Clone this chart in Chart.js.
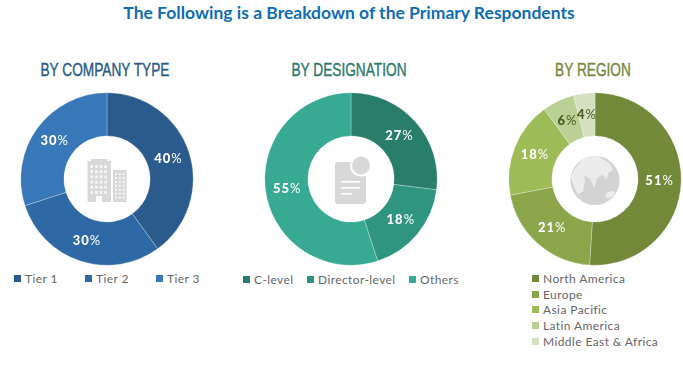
<!DOCTYPE html>
<html>
<head>
<meta charset="utf-8">
<title>Primary Respondents</title>
<script src="https://cdn.jsdelivr.net/npm/chart.js@4/dist/chart.umd.min.js"></script>
<style>
  html, body { margin: 0; padding: 0; background: #fff; }
  #page { position: relative; width: 683px; height: 369px; overflow: hidden; }
  #main-title { position: absolute; left: 0; top: 2px; width: 698px; text-align: center; font: bold 17.5px Lato, sans-serif; color: #0f6cb5; white-space: nowrap; }
  .chart-title { position: absolute; top: 60px; text-align: center; font: 18px "Liberation Sans", sans-serif; -webkit-text-stroke: .4px currentColor; white-space: nowrap; transform: scaleX(.76); }
  .chart-box { position: absolute; top: 89px; width: 180px; height: 180px; }
  .legend-item { position: absolute; font: 12px Lato, sans-serif; letter-spacing: .4px; color: #666; white-space: nowrap; line-height: 14px; }
  .legend-item i { position: absolute; left: -11px; top: 3px; width: 7px; height: 7px; }
</style>
</head>
<body>
<div id="page">
  <div id="main-title">The Following is a Breakdown of the Primary Respondents</div>
</div>
<script>
// ── data ────────────────────────────────────────────────────────
const companyLabels = ["Tier 1", "Tier 2", "Tier 3"];
const companyValues = [40, 30, 30];
const companyColors = ["#2a5b8c", "#2f69a5", "#3878b8"];

const designationLabels = ["C-level", "Director-level", "Others"];
const designationValues = [27, 18, 55];
const designationColors = ["#287d6b", "#2f9580", "#38aa94"];

const regionLabels = ["North America", "Europe", "Asia Pacific", "Latin America", "Middle East & Africa"];
const regionValues = [51, 21, 18, 6, 4];
const regionColors = ["#73893a", "#8aa54a", "#9dbb57", "#bad095", "#d5e0c0"];
const regionLabelInk = ["#fff", "#fff", "#fff", "#4a5a25", "#4a5a25"];

const ICON_GRAY = "#d8d8d8";
// rough outline of the lighter land on the globe icon
const GLOBE_LAND = [[-20,-12],[-12,-22],[2,-25],[15,-17],[18,-11],[13,-7],[12,-1],[7,-6],[2,-2],[-1,7],[-5,-2],[-11,-5],[-10,1],[-12,11],[-17,14],[-22,4],[-24,-4]];

// ── center icons ────────────────────────────────────────────────
function drawBuilding(ctx) {
  ctx.fillStyle = ICON_GRAY;
  ctx.fillRect(-19.5, -18, 23.5, 41);
  ctx.fillRect(-16, -20, 16.5, 3);
  ctx.fillRect(6, -9, 13.5, 32);
  ctx.fillStyle = "#f6f6f6";
  for (let r = 0; r < 6; r++) {
    for (let c = 0; c < 4; c++) ctx.fillRect(-16.5 + c * 4.6, -14 + r * 5.2, 2.6, 3);
  }
  for (let r = 0; r < 7; r++) {
    for (let c = 0; c < 3; c++) ctx.fillRect(8 + c * 3.8, -6 + r * 3.9, 2, 2.2);
  }
  ctx.fillStyle = "#fff";
  ctx.fillRect(-11, 17, 6, 6);
}

function drawDocument(ctx) {
  ctx.fillStyle = ICON_GRAY;
  ctx.beginPath();
  ctx.roundRect(-16, -17, 31, 42, 3);
  ctx.fill();
  ctx.fillStyle = "#fff";
  ctx.beginPath();
  ctx.arc(10, -13.5, 11, 0, Math.PI * 2);
  ctx.fill();
  ctx.fillStyle = ICON_GRAY;
  ctx.beginPath();
  ctx.arc(10, -13.5, 9, 0, Math.PI * 2);
  ctx.fill();
  ctx.fillStyle = "#fff";
  ctx.fillRect(-10, 2, 19, 1.6);
  ctx.fillRect(-10, 8, 19, 1.6);
  ctx.fillRect(-10, 14, 11, 1.6);
}

function drawGlobe(ctx) {
  ctx.save();
  ctx.translate(0, 1.5);
  ctx.beginPath();
  ctx.arc(0, 0, 24.5, 0, Math.PI * 2);
  ctx.fillStyle = "#d3d3d3";
  ctx.fill();
  ctx.clip();
  ctx.fillStyle = "#ececec";
  ctx.beginPath();
  GLOBE_LAND.forEach(([x, y], i) => (i ? ctx.lineTo(x, y) : ctx.moveTo(x, y)));
  ctx.closePath();
  ctx.fill();
  ctx.beginPath();
  ctx.ellipse(15, 14, 5, 3, -0.4, 0, Math.PI * 2);
  ctx.fill();
  ctx.restore();
}

// ── inline plugins ──────────────────────────────────────────────
const centerIcon = {
  id: "centerIcon",
  afterDraw(chart, args, opts) {
    const { ctx } = chart;
    const arc = chart.getDatasetMeta(0).data[0];
    ctx.save();
    ctx.translate(arc.x, arc.y);
    opts.draw(ctx);
    ctx.restore();
  },
};

const pctLabels = {
  id: "pctLabels",
  afterDatasetsDraw(chart, args, opts) {
    const { ctx } = chart;
    const values = chart.data.datasets[0].data;
    chart.getDatasetMeta(0).data.forEach((arc, i) => {
      const { x, y } = arc.tooltipPosition();
      const num = String(values[i]);
      ctx.save();
      ctx.textBaseline = "middle";
      ctx.fillStyle = opts.ink ? opts.ink[i] : "#fff";
      ctx.letterSpacing = "1px";
      ctx.font = "900 13px Lato, sans-serif";
      const w1 = ctx.measureText(num).width;
      ctx.font = "13px Lato, sans-serif";
      const w2 = ctx.measureText("%").width;
      const left = x - (w1 + w2) / 2;
      ctx.font = "900 13px Lato, sans-serif";
      ctx.fillText(num, left, y);
      ctx.font = "13px Lato, sans-serif";
      ctx.fillText("%", left + w1, y);
      ctx.restore();
    });
  },
};

// ── chart builder ───────────────────────────────────────────────
function addDonut(cfg) {
  const page = document.getElementById("page");

  const title = document.createElement("div");
  title.className = "chart-title";
  title.textContent = cfg.title;
  title.style.color = cfg.titleColor;
  title.style.left = cfg.titleX - 100 + "px";
  title.style.width = "200px";
  page.appendChild(title);

  const box = document.createElement("div");
  box.className = "chart-box";
  box.style.left = cfg.cx - 90 + "px";
  box.innerHTML = "<canvas></canvas>";
  page.appendChild(box);

  new Chart(box.querySelector("canvas"), {
    type: "doughnut",
    data: {
      labels: cfg.labels,
      datasets: [{
        data: cfg.values,
        backgroundColor: cfg.colors,
        borderColor: "rgba(255,255,255,.45)",
        borderWidth: 0.6,
      }],
    },
    options: {
      responsive: true,
      maintainAspectRatio: false,
      animation: false,
      cutout: "50%",
      layout: { padding: 3.5 },
      plugins: {
        legend: { display: false },
        tooltip: { enabled: false },
        centerIcon: { draw: cfg.icon },
        pctLabels: { ink: cfg.ink },
      },
    },
    plugins: [centerIcon, pctLabels],
  });

  // html legend, one entry per slice
  cfg.labels.forEach((label, i) => {
    const item = document.createElement("div");
    item.className = "legend-item";
    item.textContent = label;
    item.style.left = cfg.legendX[i] + "px";
    item.style.top = cfg.legendY[i] - 7 + "px";
    const swatch = document.createElement("i");
    swatch.style.background = cfg.colors[i];
    item.appendChild(swatch);
    page.appendChild(item);
  });
}

addDonut({
  title: "BY COMPANY TYPE", titleColor: "#2a5a85", titleX: 104.5, cx: 106.5,
  labels: companyLabels, values: companyValues, colors: companyColors,
  icon: drawBuilding,
  legendX: [25, 96, 167], legendY: [279, 279, 279],
});
addDonut({
  title: "BY DESIGNATION", titleColor: "#2b7a6b", titleX: 348.5, cx: 351,
  labels: designationLabels, values: designationValues, colors: designationColors,
  icon: drawDocument,
  legendX: [254, 318, 420], legendY: [280, 280, 280],
});
addDonut({
  title: "BY REGION", titleColor: "#76883d", titleX: 593, cx: 595.3,
  labels: regionLabels, values: regionValues, colors: regionColors, ink: regionLabelInk,
  icon: drawGlobe,
  legendX: [543, 543, 543, 543, 543], legendY: [279, 295, 310, 326, 342],
});
</script>
</body>
</html>
